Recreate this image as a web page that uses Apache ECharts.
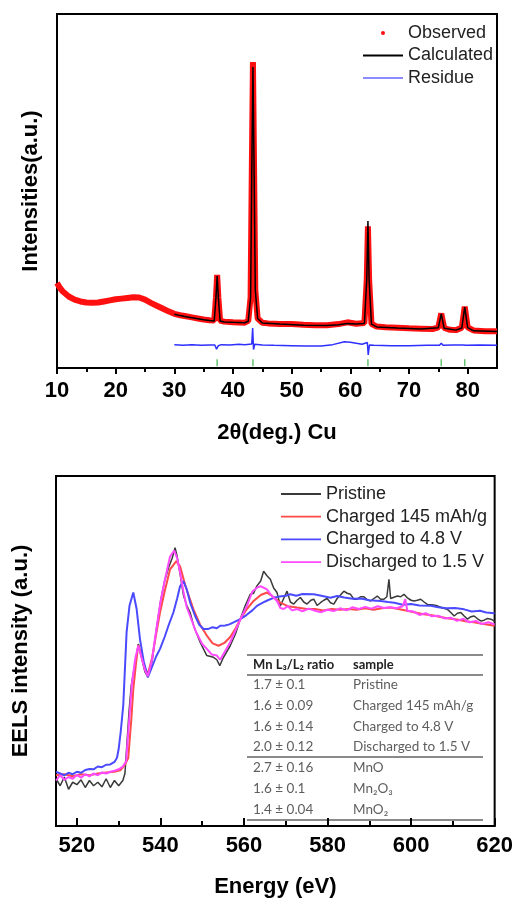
<!DOCTYPE html>
<html>
<head>
<meta charset="utf-8">
<title>XRD refinement and Mn L-edge EELS</title>
<script src="https://cdn.jsdelivr.net/npm/echarts@6/dist/echarts.min.js"></script>
<style>
  html, body { margin: 0; padding: 0; background: #fff; }
  #chart { width: 516px; height: 899px; }
</style>
</head>
<body>
<div id="chart"></div>
<script>
// top panel: XRD pattern, [2theta, intensity (a.u.)]
const xrdObserved = [
  [10, 24], [10.5, 22.6], [11, 21.6], [12, 20.2], [13, 19.3], [14, 18.8], [15, 18.5],
  [16, 18.4], [17, 18.5], [18, 18.8], [19, 19.1], [20, 19.4], [21, 19.6], [22, 19.8],
  [23, 20.0], [24, 19.9], [25, 19.3], [26, 18.4], [27, 17.6], [28, 16.8], [29, 16.0],
  [30, 15.3], [31, 14.9], [32, 14.6], [33, 14.3], [34, 14.0], [35, 13.7], [36, 13.5],
  [36.8, 13.4], [37.1, 20], [37.3, 26.3], [37.5, 20], [37.8, 13.4], [38.5, 13.1],
  [40, 12.9], [42, 12.8], [42.6, 13.3], [43.0, 20], [43.2, 55], [43.4, 86.4], [43.6, 55],
  [43.8, 22], [44.2, 14], [45, 12.8], [46, 12.6], [48, 12.4], [50, 12.4], [52, 12.2],
  [54, 12.1], [56, 12.1], [58, 12.4], [59.5, 12.9], [61, 12.5], [62.4, 12.7], [62.8, 25],
  [63.0, 40], [63.2, 25], [63.6, 12.5], [64.5, 11.7], [66, 11.5], [68, 11.4], [70, 11.2],
  [72, 11.1], [74, 11.0], [75.0, 11.5], [75.5, 15.4], [76.0, 11.3], [77, 10.8], [78, 10.7],
  [79.0, 11.4], [79.5, 17.3], [80.0, 11.5], [81, 10.6], [83, 10.4], [85, 10.4]
];
const xrdCalculated = [
  [30, 15.2], [31, 14.8], [32, 14.5], [33, 14.2], [34, 13.9], [35, 13.6], [36, 13.4],
  [36.8, 13.3], [37.1, 20], [37.3, 26], [37.5, 20], [37.8, 13.3], [38.5, 13.0], [40, 12.9],
  [42, 12.8], [42.6, 13.2], [43.0, 20], [43.2, 55], [43.4, 85], [43.6, 55], [43.8, 22],
  [44.2, 14], [45, 12.7], [48, 12.4], [52, 12.1], [56, 12.0], [58, 12.2], [59.5, 12.6],
  [61, 12.4], [62.4, 12.6], [62.8, 25], [63.0, 41.5], [63.2, 25], [63.6, 12.4],
  [64.5, 11.6], [68, 11.3], [72, 11.0], [75.0, 11.4], [75.5, 15.3], [76.0, 11.2],
  [78, 10.7], [79.0, 11.3], [79.5, 17.2], [80.0, 11.4], [81, 10.5], [85, 10.3]
];
const xrdResidue = [
  [30, 6.6], [31.5, 6.4], [33, 6.6], [34.5, 6.4], [36, 6.5], [36.9, 6.5], [37.2, 5.3],
  [37.5, 6.3], [38, 6.6], [39.5, 6.5], [41, 6.7], [42, 6.6], [43.2, 6.8], [43.35, 11.3],
  [43.5, 5.2], [43.7, 6.7], [45, 6.5], [47, 6.4], [50, 6.3], [52.5, 6.2], [55, 6.2],
  [57, 6.6], [59, 7.4], [60, 7.3], [62, 6.7], [62.9, 7.2], [63.05, 3.7], [63.25, 6.5],
  [64, 6.4], [67, 6.3], [70, 6.3], [73, 6.4], [75.2, 6.4], [75.5, 7.0], [75.8, 6.4],
  [77.5, 6.5], [79.3, 6.5], [79.5, 6.8], [79.7, 6.4], [82, 6.5], [85, 6.4]
];
const braggPositions = [37.3, 43.4, 63.0, 75.5, 79.5];
const xrdMajorTicks = [10, 20, 30, 40, 50, 60, 70, 80];
const xrdMinorTicks = [15, 25, 35, 45, 55, 65, 75];

// bottom panel: Mn L-edge EELS, [energy eV, intensity (a.u.)]
const eelsPristine = [
  [515, 13.5], [516, 11.5], [517, 14], [518, 10.5], [519, 12.5], [520, 11.8], [521, 13.2],
  [522, 11], [523, 13], [524, 11.5], [525, 12.5], [526, 11.2], [527, 13.5], [528, 11],
  [529, 13], [530, 11.5], [531, 13], [531.5, 15], [532, 24], [532.5, 33], [533, 40],
  [534, 47], [534.7, 52], [535.5, 48], [536.3, 44], [537, 42.5], [538, 47], [539, 56],
  [540, 64], [541, 70], [542, 74], [542.8, 76.5], [543.5, 79.5], [544, 77], [544.7, 72],
  [545.5, 66], [546.3, 63], [547.1, 61], [548, 57], [549.5, 52.5], [551.1, 48.7],
  [552.7, 48.2], [553.5, 47.5], [554.2, 45.8], [555, 48], [556.7, 51.5], [558, 55],
  [559.1, 59.1], [560.3, 63], [561.5, 66.2], [562.3, 66.5], [563.1, 68.6], [564, 70],
  [564.7, 72.8], [565.5, 71.5], [566.3, 70.5], [567.1, 68], [567.9, 66.7], [568.7, 62.9],
  [569.5, 65], [570.3, 67.1], [571.1, 64], [571.9, 63.4], [572.7, 64.5], [573.5, 65.3],
  [574.3, 64], [575.1, 63.4], [576, 64.5], [576.7, 64.8], [577.5, 63], [578.3, 63.8],
  [579.1, 64.5], [579.9, 65], [580.7, 63.8], [581.5, 63.4], [582.3, 65], [583.1, 66],
  [583.9, 67.1], [584.7, 66.5], [585.5, 66.2], [586.3, 64.8], [587.1, 64.8], [587.9, 65.5],
  [588.7, 65.5], [589.5, 64.6], [590.3, 64.3], [591.1, 65], [591.9, 65.7], [592.7, 64.8],
  [593.5, 64.8], [594.2, 65.5], [594.7, 70.5], [595.1, 65], [595.5, 64.8], [596.7, 65.7],
  [597.5, 65.5], [598.3, 66.2], [599.1, 65.2], [600, 64.5], [600.7, 64.3], [601.5, 64.5],
  [602.3, 64.8], [603.1, 64], [603.9, 63.3], [605, 63.2], [606.3, 62.9], [607.5, 62.3],
  [608.7, 61.9], [609.5, 61], [610.3, 60], [611.1, 60.8], [611.9, 61], [612.7, 60],
  [613.5, 59.1], [614.3, 59.8], [615.1, 60], [615.9, 59.2], [616.7, 58.6], [617.5, 58.8],
  [618.3, 59.3], [619.1, 59.1], [620, 58.5]
];
const eelsCharged145 = [
  [515, 14.5], [517, 14.8], [519, 14.2], [521, 14.8], [523, 14.5], [525, 15], [527, 15.3],
  [529, 15.5], [530.5, 16], [531.5, 17.5], [532.3, 19.5], [533, 30], [533.5, 39],
  [534.2, 47], [534.7, 51.7], [535.5, 48.5], [536.3, 45], [537, 43.5], [538, 48], [539, 55],
  [539.9, 61], [541, 67], [542.3, 73.3], [543.8, 75.7], [544.7, 74.2], [546, 68.5],
  [547.9, 61.9], [549.5, 57.5], [551.1, 54.4], [552.5, 52.2], [553.9, 51.5], [555.3, 52.3],
  [556.7, 54], [558, 56.5], [559.1, 59.1], [560.7, 62], [562.3, 64.3], [564, 66],
  [565.5, 66.7], [567, 65.5], [568.7, 63.8], [570.5, 62.8], [572.7, 62.4], [575, 62],
  [577, 62], [579, 61.6], [581, 62], [583, 61.8], [585, 62], [587, 61.8], [589, 62.2],
  [591, 61.8], [593, 62.2], [595, 62.4], [597, 62], [599, 61.5], [601, 61], [603, 60.5],
  [605, 60.2], [607, 59.7], [609, 59.3], [611, 59], [613, 58.5], [615, 58.2], [617, 57.8],
  [620, 57.2]
];
const eelsCharged48 = [
  [515, 15.5], [516, 15], [517, 14.5], [518, 15.2], [519, 14.8], [520, 15.5], [521, 15.2],
  [522, 16], [523, 16.3], [524, 16.2], [525, 17], [526, 16.8], [527, 17.5], [528, 17.6],
  [529, 18.3], [529.6, 19.5], [530, 22], [530.5, 27], [531.1, 34.5], [531.9, 55.4],
  [532.6, 63], [533.5, 66.7], [534.3, 62], [535.1, 53.4], [536, 47], [537, 42.5],
  [538, 45.5], [539, 48.5], [539.9, 50.6], [541, 54], [542, 57.5], [543.1, 61], [544, 65],
  [544.7, 68.5], [545.5, 70], [546.3, 67.6], [547.2, 63.5], [548.3, 60], [549.3, 57.5],
  [550.3, 56.3], [551.5, 56.3], [552.5, 56.8], [553.5, 56.5], [554.3, 57.2], [555.5, 57.3],
  [556.5, 57.6], [557.5, 58.2], [559.1, 59.1], [560.5, 60.2], [562, 61.6], [563.1, 62.9],
  [564.5, 63.8], [565.7, 64.5], [567.1, 65.2], [568.5, 65.6], [570, 65.8], [571.1, 66.2],
  [572.5, 65.8], [574, 66.3], [576.7, 66.2], [578.5, 65.8], [580.7, 65.2], [582.3, 65.7],
  [584, 65.3], [586, 64.9], [588, 65.0], [590, 64.5], [592.7, 64.3], [594.5, 64.0],
  [596, 63.8], [598, 63.2], [600, 63.4], [602, 63.0], [604.7, 62.9], [606.5, 62.5],
  [608.5, 62.2], [610.5, 62.3], [612.7, 61.9], [614.5, 61.3], [616.5, 61.5], [618, 61.0],
  [620, 60.8]
];
const eelsDischarged = [
  [515, 13], [516, 14.5], [517, 13.2], [518, 14], [519, 13.5], [520, 14.6], [521, 13.8],
  [522, 14.8], [523, 14.2], [524, 15], [525, 14.5], [526, 15.3], [527, 15], [528, 15.5],
  [529, 15.8], [530, 16.2], [531, 17], [531.8, 18.5], [532.5, 30], [533.2, 41], [534, 48],
  [534.7, 51.5], [535.5, 48], [536.3, 44.5], [537, 42.8], [538, 47.5], [539, 56], [540, 64],
  [541, 70], [542.3, 77], [543.3, 78.7], [544, 76.5], [544.7, 72.5], [545.5, 67],
  [546.3, 62.5], [547.1, 60], [548.5, 55.5], [550, 52], [551.1, 50.6], [552.3, 49],
  [553.5, 48.7], [554.3, 47.5], [555.5, 50], [556.7, 52.5], [558, 56], [559.5, 60],
  [560.7, 62.9], [562, 67], [563.1, 68.1], [564, 68.5], [565.5, 67.6], [566.5, 66],
  [567.9, 64.3], [568.7, 62.3], [569.5, 62], [570.5, 62.8], [571.5, 61.6], [572.7, 62],
  [574, 61.3], [575.5, 62.1], [577, 61.5], [578.5, 61.1], [580, 61.8], [581.5, 61.4],
  [583, 62.2], [584.5, 61.6], [586, 62.5], [587.5, 62], [589, 62.6], [590.5, 62.1],
  [592, 62.8], [593.5, 62.3], [595, 62.5], [596.5, 62.2], [598, 62.8], [598.6, 64.8],
  [599.1, 61.5], [600.5, 61.3], [602, 60.3], [603.5, 60.8], [605, 59.9], [606.5, 60.1],
  [608, 59.3], [609.5, 59.5], [611, 58.6], [612.5, 59.2], [614, 58.2], [615.5, 58.6],
  [617, 57.7], [618.5, 58.2], [620, 57.6]
];
const eelsMajorTicks = [520, 540, 560, 580, 600, 620];
const eelsMinorTicks = [530, 550, 570, 590, 610];

// inset table (Mn L3/L2 ratios)
const tableHeader = ['Mn L₃/L₂ ratio', 'sample'];
const ratioValues = ['1.7 ± 0.1', '1.6 ± 0.09', '1.6 ± 0.14', '2.0 ± 0.12', '2.7 ± 0.16', '1.6 ± 0.1', '1.4 ± 0.04'];
const sampleNames = ['Pristine', 'Charged 145 mAh/g', 'Charged to 4.8 V', 'Discharged to 1.5 V', 'MnO', 'Mn₂O₃', 'MnO₂'];

const chart = echarts.init(document.getElementById('chart'));

const FONT = 'Liberation Sans';
const tickFont = { color: '#000', fontSize: 22, fontWeight: 'bold', fontFamily: FONT };
const nameFont = { color: '#000', fontSize: 22, fontWeight: 'bold', fontFamily: FONT };
const blackLine = { color: '#000', width: 2 };

// one axis draws the line, labels and major ticks; a silent twin adds the minor ticks
function xAxes(gridIndex, min, max, major, minor, inside, nameText, nameGap, labelMargin) {
  return [
    {
      gridIndex: gridIndex, type: 'value', position: 'bottom', min: min, max: max,
      name: nameText, nameLocation: 'middle', nameGap: nameGap, nameTextStyle: nameFont,
      axisLine: { show: true, lineStyle: blackLine },
      axisTick: { show: true, inside: inside, length: inside ? 8 : 6, customValues: major, lineStyle: blackLine },
      axisLabel: Object.assign({ customValues: major, margin: labelMargin }, tickFont),
      splitLine: { show: false }
    },
    {
      gridIndex: gridIndex, type: 'value', position: 'bottom', min: min, max: max,
      axisLine: { show: false },
      axisTick: { show: true, inside: inside, length: inside ? 5 : 4, customValues: minor, lineStyle: blackLine },
      axisLabel: { show: false },
      splitLine: { show: false }
    }
  ];
}

function yAxis(gridIndex, nameText, nameGap) {
  return {
    gridIndex: gridIndex, type: 'value', min: 0, max: 100,
    name: nameText, nameLocation: 'middle', nameGap: nameGap, nameTextStyle: nameFont,
    axisLine: { show: true, lineStyle: blackLine },
    axisTick: { show: false },
    axisLabel: { show: false },
    splitLine: { show: false }
  };
}

function eelsLine(name, data, color, width) {
  return {
    name: name, type: 'line', xAxisIndex: 2, yAxisIndex: 1, data: data,
    showSymbol: false, symbol: 'none', color: color,
    lineStyle: { color: color, width: width }, z: 3
  };
}

// inset table drawn as graphic text/lines
const tableLeft = 247;
const tableRight = 483;
const ruleY = [655, 675, 757, 820];
const rowY = [685, 706, 727, 747, 768, 789, 810];
const tableGraphics = [];
ruleY.forEach(y => {
  tableGraphics.push({
    type: 'line', shape: { x1: tableLeft, y1: y, x2: tableRight, y2: y },
    style: { stroke: '#8a8a8a', lineWidth: 2 }
  });
});
tableHeader.forEach((t, i) => {
  tableGraphics.push({
    type: 'text', x: i === 0 ? 253 : 353, y: 665,
    style: { text: t, fill: '#222', fontSize: 13, fontWeight: 'bold', fontFamily: 'Lato', verticalAlign: 'middle' }
  });
});
ratioValues.forEach((t, i) => {
  tableGraphics.push({
    type: 'text', x: 253, y: rowY[i],
    style: { text: t, fill: '#5e5e5e', fontSize: 13.5, fontFamily: 'Lato', verticalAlign: 'middle' }
  });
  tableGraphics.push({
    type: 'text', x: 353, y: rowY[i],
    style: { text: sampleNames[i], fill: '#5e5e5e', fontSize: 13.5, fontFamily: 'Lato', verticalAlign: 'middle' }
  });
});

// thin line icon for legend (keeps aspect inside the icon box)
const lineIcon = 'path://M0,0H40V1.8H0Z';

const option = {
  animation: false,
  backgroundColor: '#fff',
  textStyle: { fontFamily: FONT },
  grid: [
    { left: 57, top: 14, width: 440, height: 354, show: true, borderColor: '#000', borderWidth: 2 },
    { left: 56, top: 476, width: 440, height: 352, show: true, borderColor: '#000', borderWidth: 2 }
  ],
  legend: [
    {
      orient: 'vertical', left: 358, top: 19, itemWidth: 40, itemHeight: 4, itemGap: 4.5,
      textStyle: { fontSize: 18, color: '#222', fontFamily: FONT },
      data: [
        { name: 'Observed', icon: 'circle' },
        { name: 'Calculated', icon: lineIcon },
        { name: 'Residue', icon: lineIcon, itemStyle: { color: '#8c8cff' } }
      ]
    },
    {
      orient: 'vertical', left: 276, top: 480, itemWidth: 40, itemHeight: 4, itemGap: 4.7,
      textStyle: { fontSize: 18, color: '#222', fontFamily: FONT },
      data: [
        { name: 'Pristine', icon: lineIcon },
        { name: 'Charged 145 mAh/g', icon: lineIcon },
        { name: 'Charged to 4.8 V', icon: lineIcon },
        { name: 'Discharged to 1.5 V', icon: lineIcon }
      ]
    }
  ],
  xAxis: []
    .concat(xAxes(0, 10, 85, xrdMajorTicks, xrdMinorTicks, false, '2θ(deg.) Cu', 54, 12))
    .concat(xAxes(1, 515, 620, eelsMajorTicks, eelsMinorTicks, true, 'Energy (eV)', 50, 9)),
  yAxis: [
    yAxis(0, 'Intensities(a.u.)', 15),
    yAxis(1, 'EELS intensity (a.u.)', 24)
  ],
  graphic: tableGraphics,
  series: [
    {
      name: 'Observed', type: 'line', xAxisIndex: 0, yAxisIndex: 0, data: xrdObserved,
      symbol: 'circle', showSymbol: false, color: '#ff1010',
      lineStyle: { color: '#ff1010', width: 6 }, z: 2
    },
    {
      name: 'Calculated', type: 'line', xAxisIndex: 0, yAxisIndex: 0, data: xrdCalculated,
      symbol: 'none', showSymbol: false, color: '#000',
      lineStyle: { color: '#000', width: 1.5 }, z: 3
    },
    {
      name: 'Residue', type: 'line', xAxisIndex: 0, yAxisIndex: 0, data: xrdResidue,
      symbol: 'none', showSymbol: false, color: '#2f2fff',
      lineStyle: { color: '#2f2fff', width: 1.5 }, z: 3
    },
    {
      // Bragg reflection markers
      name: 'Bragg', type: 'scatter', xAxisIndex: 0, yAxisIndex: 0,
      data: braggPositions.map(x => [x, 1.5]),
      symbol: 'rect', symbolSize: [1.5, 7], itemStyle: { color: '#3cb44b' }, silent: true
    },
    eelsLine('Pristine', eelsPristine, '#3a3a3a', 1.5),
    eelsLine('Charged 145 mAh/g', eelsCharged145, '#ff4a4a', 2),
    eelsLine('Charged to 4.8 V', eelsCharged48, '#4a4aff', 2),
    eelsLine('Discharged to 1.5 V', eelsDischarged, '#ff4aff', 2)
  ]
};

chart.setOption(option);
</script>
</body>
</html>
